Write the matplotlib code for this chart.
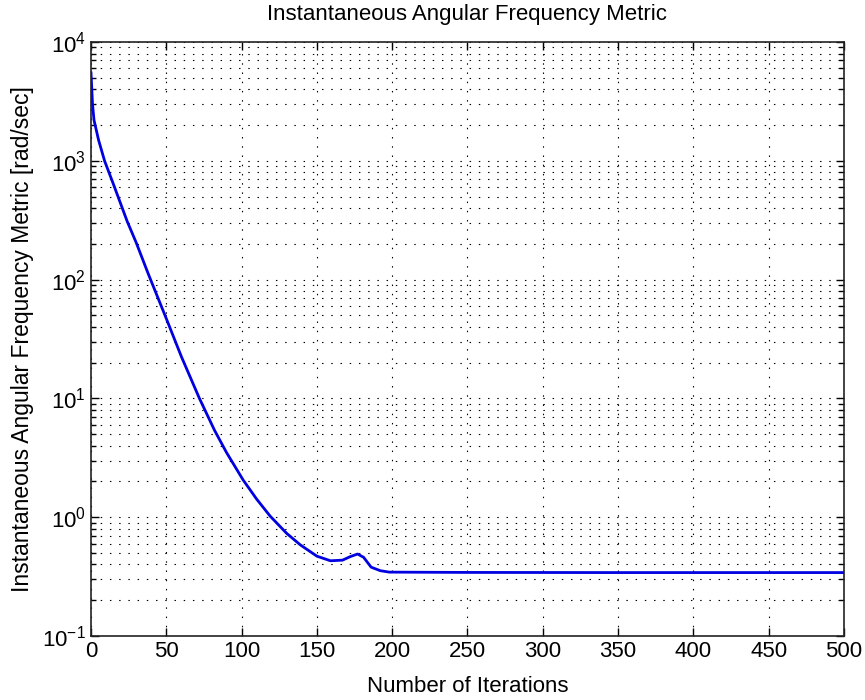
import matplotlib
matplotlib.use("Agg")
import matplotlib.pyplot as plt
from matplotlib.ticker import LogLocator, MultipleLocator, NullFormatter
import numpy as np

plt.rcParams['font.family'] = ['Liberation Sans', 'DejaVu Sans']
plt.rcParams['mathtext.default'] = 'regular'

iterations = [0, 1, 2, 5, 9, 15, 24, 30, 38, 50, 60, 72, 82, 90, 101, 110, 119,
              130, 139, 150, 159, 167, 172, 177, 181, 186, 192, 198, 250, 350, 500]
metric = [5500, 3000, 2200, 1500, 1000, 630, 310, 205, 112, 47, 22.5, 10, 5.4, 3.5,
          2.06, 1.42, 1.02, 0.73, 0.585, 0.47, 0.43, 0.435, 0.465, 0.49, 0.46,
          0.38, 0.355, 0.345, 0.343, 0.342, 0.342]

title = "Instantaneous Angular Frequency Metric"
xlabel = "Number of Iterations"
ylabel = "Instantaneous Angular Frequency Metric [rad/sec]"

fig = plt.figure(figsize=(8.65, 7.0), dpi=100)
ax = fig.add_axes([0.1052, 0.0914, 0.8705, 0.8486])

ax.semilogy(iterations, metric, color='#0000e0', lw=2.0)
ax.set_xlim(0, 500)
ax.set_ylim(0.1, 1e4)

ax.xaxis.set_major_locator(MultipleLocator(50))
ax.yaxis.set_major_locator(LogLocator(base=10, numticks=10))
ax.yaxis.set_minor_locator(LogLocator(base=10, subs=np.arange(2, 10), numticks=20))
ax.yaxis.set_minor_formatter(NullFormatter())

dots = (0, (1.3, 7))
ax.grid(True, which='major', linestyle=dots, color='black', lw=0.8)
ax.grid(True, which='minor', axis='y', linestyle=dots, color='black', lw=0.8)

ax.tick_params(which='both', direction='in', top=True, right=True, labelsize=16)
ax.tick_params(which='major', length=6, width=1)
ax.tick_params(which='minor', length=3.5, width=1)
for s in ax.spines.values():
    s.set_linewidth(1.2)
    s.set_color('#222222')

ax.set_title(title, fontsize=16, pad=16)
ax.set_xlabel(xlabel, fontsize=16, labelpad=10)
ax.set_ylabel(ylabel, fontsize=16.5, labelpad=6)

fig.savefig("out.png", dpi=100)
